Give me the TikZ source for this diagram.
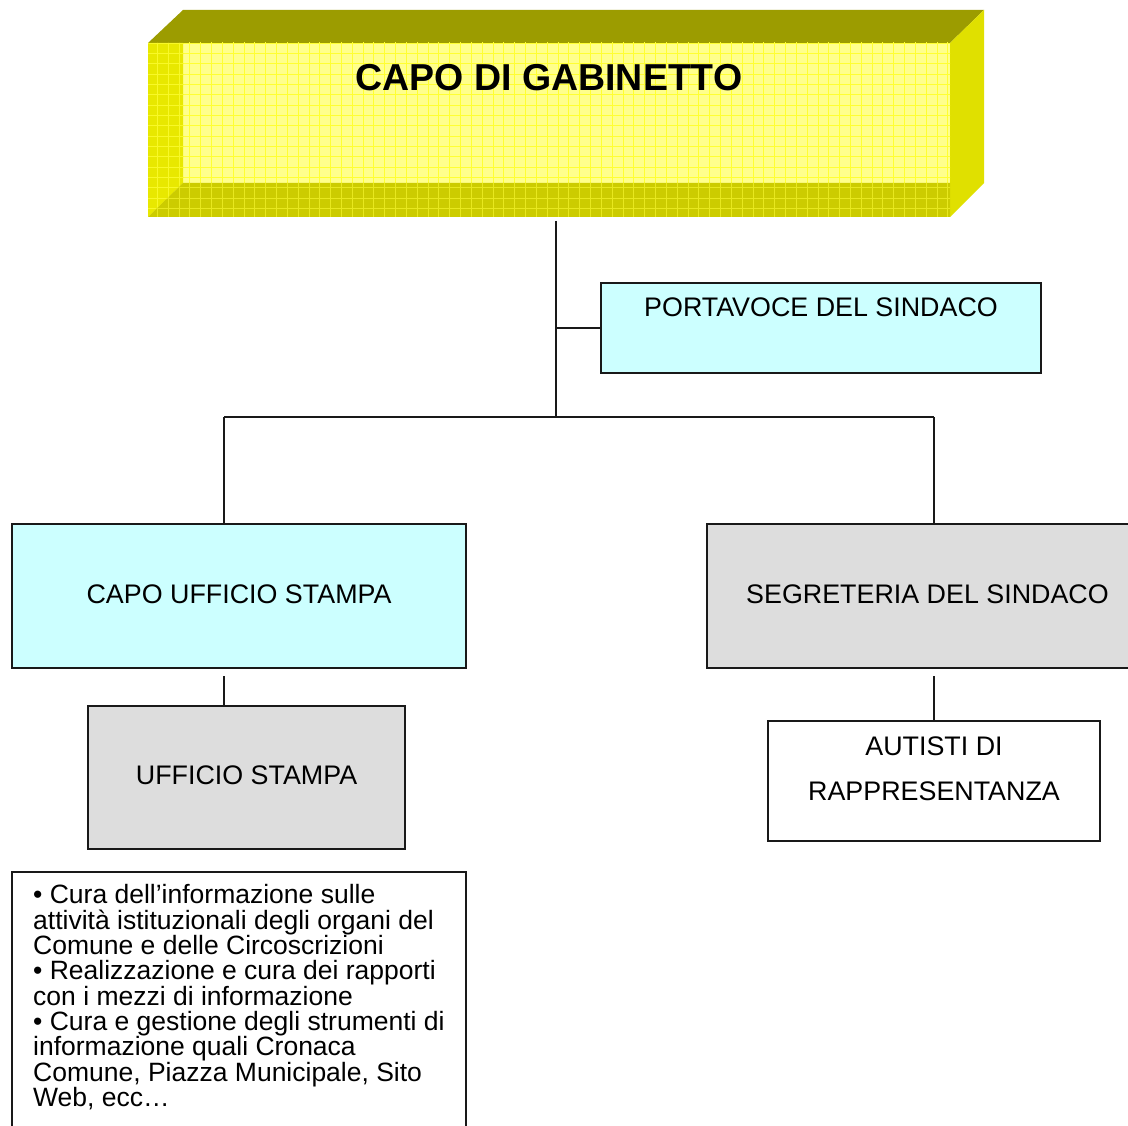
\documentclass[tikz,border=0pt]{standalone}
\usepackage{fontspec}
\setmainfont{Liberation Sans}
\usetikzlibrary{calc}
\definecolor{facelight}{RGB}{255,255,140}
\definecolor{facegrid}{RGB}{255,255,50}
\definecolor{leftstrip}{RGB}{232,232,0}
\definecolor{leftgrid}{RGB}{248,248,40}
\definecolor{botstrip}{RGB}{204,204,0}
\definecolor{botgrid}{RGB}{232,232,30}
\definecolor{topface}{RGB}{156,156,0}
\definecolor{rightface}{RGB}{224,224,0}
\definecolor{cyanfill}{RGB}{204,255,255}
\definecolor{grayfill}{RGB}{221,221,221}
\definecolor{edgecol}{RGB}{25,25,25}
\newcommand{\cgGridLines}[1]{%
  \foreach \i in {0,...,75} \draw[#1, gridline] ({146.5+10.83*\i},40) -- ++(0,180);
  \foreach \j in {0,...,17} \draw[#1, gridline] (145,{43+10.34*\j}) -- ++(810,0);
}
\begin{document}
\begin{tikzpicture}[x=1pt,y=-1pt,
  box/.style={draw=edgecol, line width=1.8pt, rectangle, inner sep=0pt},
  cyanbox/.style={box, fill=cyanfill},
  graybox/.style={box, fill=grayfill},
  whitebox/.style={box, fill=white},
  lbl/.style={font=\fontsize{26.85}{30}\selectfont, inner sep=0pt, text=black},
  conn/.style={draw=edgecol, line width=1.7pt},
  gridline/.style={line width=0.9pt}]

\fill[white] (0,0) rectangle (1128,1126);
\useasboundingbox (0,0) rectangle (1128,1126);

% ---- 3D title block ----
\fill[topface] (148,43) -- (183,10) -- (984,10) -- (950,43) -- cycle;
\fill[rightface] (950,43) -- (984,10) -- (984,183) -- (950,217) -- cycle;
\node[fill=facelight, minimum width=802pt, minimum height=174pt, inner sep=0pt] (cg) at (549,130) {};
\begin{scope}
  \clip (183,43) rectangle (950,183);
  \cgGridLines{facegrid}
\end{scope}
\fill[leftstrip] (148,43) -- (183,43) -- (183,183) -- (148,217) -- cycle;
\begin{scope}
  \clip (148,43) -- (183,43) -- (183,183) -- (148,217) -- cycle;
  \cgGridLines{leftgrid}
\end{scope}
\fill[botstrip] (148,217) -- (183,183) -- (950,183) -- (950,217) -- cycle;
\begin{scope}
  \clip (148,217) -- (183,183) -- (950,183) -- (950,217) -- cycle;
  \cgGridLines{botgrid}
\end{scope}
\node[font=\fontsize{37.5}{40}\selectfont\bfseries, inner sep=0pt] (cgt) at (549,78) {CAPO DI GABINETTO};

% ---- boxes ----
\node[cyanbox, minimum width=440pt, minimum height=90pt] (pv) at (821,328) {};
\node[lbl] (pvt) at (821,307) {PORTAVOCE DEL SINDACO};

\node[cyanbox, minimum width=454pt, minimum height=144pt] (cus) at (239,596) {};
\node[lbl] (cust) at (239,594) {CAPO UFFICIO STAMPA};

\node[graybox, minimum width=317pt, minimum height=143pt] (us) at (246.5,777.5) {};
\node[lbl] (ust) at (246.5,775) {UFFICIO STAMPA};

\node[whitebox, minimum width=332pt, minimum height=120pt] (aut) at (934,781) {};
\node[lbl, font=\fontsize{26.85}{45}\selectfont, align=center] (autt) at (934,768.5) {AUTISTI DI\\RAPPRESENTANZA};

\begin{scope}
  \clip (0,0) rectangle (1128,1126);
  \node[graybox, minimum width=440pt, minimum height=144pt] (seg) at (927,596) {};
  \node[lbl] (segt) at (927.5,594) {SEGRETERIA DEL SINDACO};
  \node[whitebox, minimum width=454pt, minimum height=268pt] (bul) at (239,1006) {};
\end{scope}
\node[anchor=north west, inner sep=0pt, align=left, font=\fontsize{26.5}{25.3}\selectfont] (bult) at (33,884.5)
  {• Cura dell’informazione sulle\\
   attività istituzionali degli organi del\\
   Comune e delle Circoscrizioni\\
   • Realizzazione e cura dei rapporti\\
   con i mezzi di informazione\\
   • Cura e gestione degli strumenti di\\
   informazione quali Cronaca\\
   Comune, Piazza Municipale, Sito\\
   Web, ecc…};

% ---- connectors ----
\coordinate (cgb) at (556,221);
\coordinate (hub) at (556,417);
\coordinate (L) at (224,417);
\coordinate (R) at (934,417);
\coordinate (cusb) at (224,676);
\coordinate (segb) at (934,676);
\draw[conn] (cgb) -- (hub);
\draw[conn] (pv.west) -- (pv.west -| hub);
\draw[conn] (L) -- (R);
\draw[conn] (L) -- (L |- cus.north);
\draw[conn] (R) -- (R |- seg.north);
\draw[conn] (cusb) -- (cusb |- us.north);
\draw[conn] (segb) -- (aut.north);
\end{tikzpicture}
\end{document}
